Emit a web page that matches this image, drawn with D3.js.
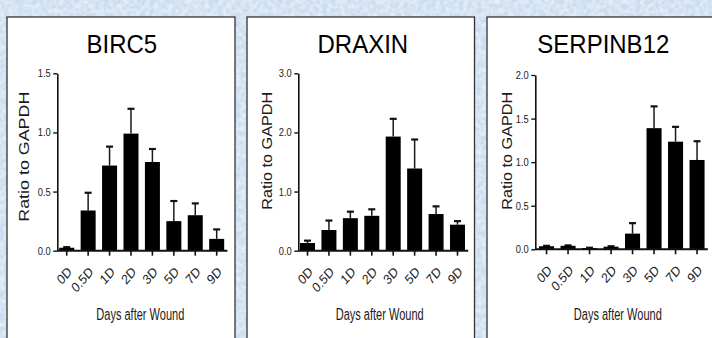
<!DOCTYPE html>
<html>
<head>
<meta charset="utf-8">
<script src="https://cdn.jsdelivr.net/npm/d3@7"></script>
<style>
  html, body { margin: 0; padding: 0; background: #d2e2f3; }
  svg { display: block; font-family: "Liberation Sans", Arial, Helvetica, sans-serif; }
</style>
</head>
<body>
<svg id="chart" width="712" height="338"></svg>
<script>
// Time points after wounding
const days = ["0D", "0.5D", "1D", "2D", "3D", "5D", "7D", "9D"];

// Mean expression (ratio to GAPDH) and SEM per time point
const birc5Mean = [0.025, 0.34, 0.72, 0.99, 0.75, 0.25, 0.30, 0.10];
const birc5Sem  = [0.005, 0.15, 0.16, 0.21, 0.11, 0.17, 0.10, 0.08];

const draxinMean = [0.13, 0.35, 0.55, 0.59, 1.93, 1.39, 0.62, 0.44];
const draxinSem  = [0.04, 0.16, 0.11, 0.11, 0.30, 0.49, 0.13, 0.06];

const serpinb12Mean = [0.035, 0.04, 0.015, 0.03, 0.18, 1.39, 1.235, 1.025];
const serpinb12Sem  = [0.005, 0.005, 0.003, 0.005, 0.12, 0.25, 0.17, 0.215];

// Y axis tick values per gene
const birc5Ticks = [0, 0.5, 1.0, 1.5];
const draxinTicks = [0, 1, 2, 3];
const serpinb12Ticks = [0, 0.5, 1.0, 1.5, 2.0];

const yTitle = "Ratio to GAPDH";
const xTitle = "Days after Wound";

// Layout for the three panels
const panels = [
  { gene: "BIRC5", mean: birc5Mean, sem: birc5Sem, ticks: birc5Ticks,
    box: [7, 17, 228, 330], titleX: 121.8,
    xRange: [56.0, 227.4], axisX: 57.3, yRange: [250.7, 73.3],
    yTitleX: 29.3, yTitleY: 156.7, yTitleLen: 130, xTitleX: 140.3 },
  { gene: "DRAXIN", mean: draxinMean, sem: draxinSem, ticks: draxinTicks,
    box: [247, 17, 227.5, 330], titleX: 362.8,
    xRange: [296.8, 468.2], axisX: 298.3, yRange: [250.7, 73.3],
    yTitleX: 271.7, yTitleY: 150.8, yTitleLen: 118, xTitleX: 379.7 },
  { gene: "SERPINB12", mean: serpinb12Mean, sem: serpinb12Sem, ticks: serpinb12Ticks,
    box: [487, 17, 240, 330], titleX: 603.3,
    xRange: [535.8, 707.8], axisX: 535.3, yRange: [249.3, 75.0],
    yTitleX: 511.7, yTitleY: 150.8, yTitleLen: 118, xTitleX: 617.8 }
];

const svg = d3.select("#chart");

// Marbled light-blue backdrop
const defs = svg.append("defs");
const paper = defs.append("filter").attr("id", "paper")
  .attr("x", 0).attr("y", 0).attr("width", "100%").attr("height", "100%");
paper.append("feTurbulence").attr("type", "fractalNoise")
  .attr("baseFrequency", 0.22).attr("numOctaves", 3).attr("seed", 7);
paper.append("feColorMatrix").attr("type", "matrix")
  .attr("values", "0 0 0 0 1  0 0 0 0 1  0 0 0 0 1  0 0 0 1.0 -0.25");

svg.append("rect").attr("width", 712).attr("height", 338).attr("fill", "#c8dbf0");
svg.append("rect").attr("width", 712).attr("height", 338).attr("filter", "url(#paper)");

panels.forEach(p => {
  const g = svg.append("g");

  g.append("rect")
    .attr("x", p.box[0]).attr("y", p.box[1])
    .attr("width", p.box[2]).attr("height", p.box[3])
    .attr("fill", "#fff").attr("stroke", "#333").attr("stroke-width", 1.3);

  const x = d3.scaleBand().domain(days).range(p.xRange)
    .paddingInner(0.3).paddingOuter(0.15);
  const y = d3.scaleLinear().domain([0, d3.max(p.ticks)]).range(p.yRange);

  // Title
  g.append("text")
    .attr("transform", `translate(${p.titleX},53) scale(1,1.08)`)
    .attr("text-anchor", "middle")
    .attr("font-size", 24).attr("fill", "#000")
    .text(p.gene);

  // Error bars (upper SEM)
  const err = g.append("g").selectAll("g").data(days).join("g");
  err.append("line")
    .attr("x1", d => x(d) + x.bandwidth() / 2).attr("x2", d => x(d) + x.bandwidth() / 2)
    .attr("y1", (d, i) => y(p.mean[i])).attr("y2", (d, i) => y(p.mean[i] + p.sem[i]))
    .attr("stroke", "#1a1a1a").attr("stroke-width", 1.5);
  err.append("line")
    .attr("x1", d => x(d) + x.bandwidth() / 2 - 3.5).attr("x2", d => x(d) + x.bandwidth() / 2 + 3.5)
    .attr("y1", (d, i) => y(p.mean[i] + p.sem[i])).attr("y2", (d, i) => y(p.mean[i] + p.sem[i]))
    .attr("stroke", "#111").attr("stroke-width", 2.2);

  // Bars
  g.append("g").selectAll("rect").data(days).join("rect")
    .attr("x", d => x(d)).attr("width", x.bandwidth())
    .attr("y", (d, i) => y(p.mean[i]))
    .attr("height", (d, i) => y(0) - y(p.mean[i]))
    .attr("fill", "#000");

  // Y axis
  const yAxis = g.append("g")
    .attr("transform", `translate(${p.axisX},0)`)
    .call(d3.axisLeft(y).tickValues(p.ticks).tickFormat(d3.format(".1f"))
      .tickSize(4).tickSizeOuter(0).tickPadding(2.5));
  yAxis.select(".domain").attr("stroke", "#111").attr("stroke-width", 1.6);
  yAxis.selectAll(".tick line").attr("stroke", "#111").attr("stroke-width", 1.4);
  yAxis.selectAll(".tick text")
    .attr("font-size", 11).attr("fill", "#222")
    .attr("font-family", "Liberation Sans, Arial, sans-serif")
    .attr("textLength", 13).attr("lengthAdjust", "spacingAndGlyphs");

  // X axis
  const xAxis = g.append("g")
    .attr("transform", `translate(0,${y(0)})`)
    .call(d3.axisBottom(x).tickSize(5).tickSizeOuter(0));
  xAxis.select(".domain").attr("stroke", "#111").attr("stroke-width", 2)
    .attr("d", `M${p.axisX},0H${p.xRange[1]}`);
  xAxis.selectAll(".tick line").attr("stroke", "#111").attr("stroke-width", 1.6);
  xAxis.selectAll(".tick text")
    .attr("font-size", 12).attr("fill", "#222")
    .attr("font-family", "Liberation Sans, Arial, sans-serif")
    .attr("text-anchor", "end")
    .attr("y", 0).attr("dy", 0)
    .attr("transform", "translate(6,22) scale(1,1.15) rotate(-45)");

  // Axis titles
  g.append("text")
    .attr("transform", `translate(${p.yTitleX},${p.yTitleY}) rotate(-90)`)
    .attr("text-anchor", "middle")
    .attr("font-size", 14).attr("fill", "#1a1a1a")
    .attr("textLength", p.yTitleLen).attr("lengthAdjust", "spacingAndGlyphs")
    .text(yTitle);

  g.append("text")
    .attr("x", p.xTitleX).attr("y", 320)
    .attr("text-anchor", "middle")
    .attr("font-size", 16).attr("fill", "#1a1a1a")
    .attr("textLength", 88).attr("lengthAdjust", "spacingAndGlyphs")
    .text(xTitle);
});
</script>
</body>
</html>
